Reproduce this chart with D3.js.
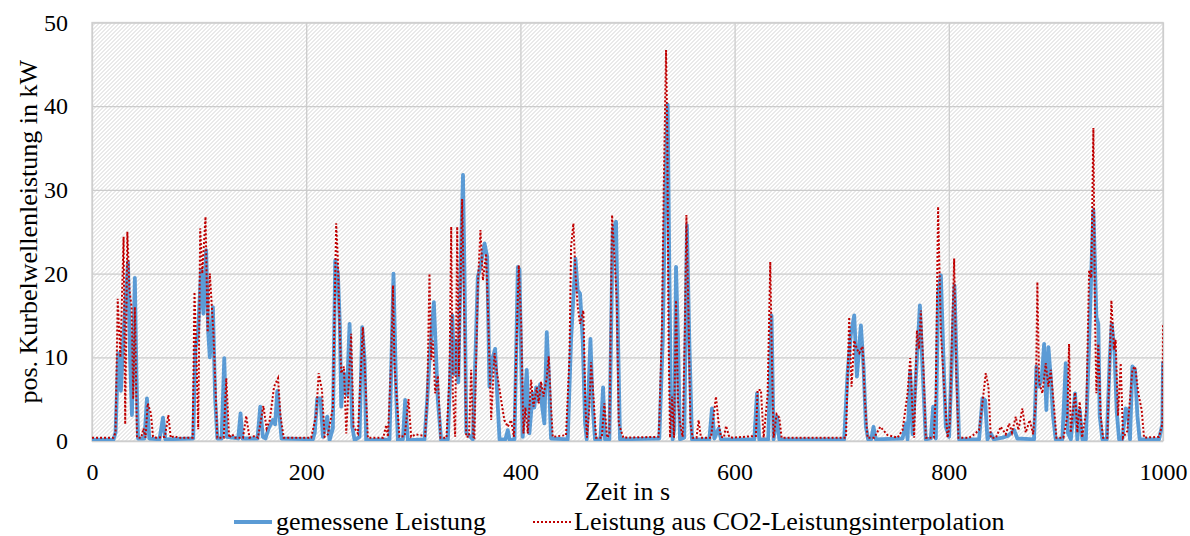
<!DOCTYPE html>
<html>
<head>
<meta charset="utf-8">
<script src="https://cdn.jsdelivr.net/npm/d3@7"></script>
<style>
  body { margin: 0; background: #fff; }
  svg { display: block; }
  svg text { font-family: "Liberation Serif", "Times New Roman", serif; fill: #000; }
</style>
</head>
<body>
<svg id="chart" width="1190" height="536"></svg>
<script>
// Zeit in s, Leistung in kW
const gemessen = [
  [0,0.15],[20,0.15],[22,1],[24.5,10.5],[27,6],[30,14],[33.6,21.4],[35.5,10],[37.3,3.1],[40,19.5],[41.5,8],[43,0.3],
  [49,0.3],[51.3,5.1],[53.5,0.3],[63,0.2],[66.3,2.8],[68.5,0.2],[94.5,0.3],[96.6,11.1],[99,13],[101.9,20.4],[104,15.2],
  [106.6,22.8],[108.5,13],[110,10],[112.9,16],[115,5],[117,0.3],[121,0.3],[123.5,9.9],[125.5,0.5],[136.5,0.3],[138.7,3.3],
  [140.5,0.3],[154.5,0.3],[157.1,4.1],[159.5,0.5],[162,0.3],[165,1.5],[168.9,2.5],[171,2],[173,6],[175,3],[177,0.3],
  [206.3,0.2],[208,1],[210.3,5.1],[213.4,5.1],[215.6,0.5],[219.6,2.9],[221.8,0.1],[224.9,1.5],[227.1,21.6],[229.6,20],
  [231.5,13.6],[232.7,4.1],[235.2,8.1],[238,5.5],[240.5,14],[243,1.7],[245.2,0.1],[249.8,0.5],[252.3,13.6],[254.5,9.7],
  [256,0.1],[277.8,0.2],[281.5,20],[284,5.7],[285.6,0.1],[290.3,0.2],[292.4,4.9],[294.9,0.1],[310.5,0.2],[313,4.9],
  [315.1,9.7],[319.2,16.6],[321.4,9.7],[322.9,4.9],[326,0.1],[332.3,0.2],[335,10],[336.5,15],[338,8],[340,12],[342,7],
  [344,20],[346.4,31.8],[347.8,20],[349.5,1],[355.6,0.2],[358,10],[360.2,19.6],[363,21],[366.5,23.6],[369,22],[371.1,6.5],
  [374.2,10],[376.4,11],[378.3,5.7],[380.5,0.2],[386,0.2],[388.2,1.3],[390,0.1],[394.5,0.2],[397.6,20.8],[399.1,20.5],
  [402.2,0.5],[405.9,8.5],[408.4,0.9],[411.5,5.7],[413,4],[414.7,6.4],[416.2,4.8],[418.4,6.8],[420.3,4.1],[422.4,2.1],
  [424.6,13],[426.5,8],[428.6,0.3],[444.2,0.2],[447.3,12],[451.4,21.8],[453.5,18],[455.7,17.6],[458.2,12],[460.4,2.1],
  [461.9,0.2],[465.4,12.2],[467.5,4],[469.7,0.2],[474.7,0.2],[477.2,6.4],[479,0.2],[483.1,0.2],[486.2,25.2],[489.3,26.2],
  [491.2,12],[493,0.2],[529.7,0.3],[532.9,12],[535.3,30],[537.5,40.2],[539.1,20],[540.6,4.1],[542.2,0.2],[543.7,1.5],
  [545.3,20.8],[547.2,12],[549,0.2],[553,0.4],[555.5,25.8],[557.7,12],[560.2,0.2],[576.4,0.2],[578.9,3.9],[581.1,0.3],
  [585.1,1.5],[587.3,0.2],[618.4,0.2],[620.9,5.7],[623,0.2],[631.4,0.2],[634.5,15],[636.4,0.2],[639.5,2.9],[641.7,0.2],
  [702.3,0.2],[705.5,8.1],[708.6,12.8],[711.7,15],[714.2,7.7],[717.9,13.8],[720.4,8.9],[722.6,1.7],[724.7,0.2],[727.5,0.2],
  [729.7,1.7],[731.9,0.2],[756.8,0.3],[759.9,2.1],[761.5,0.2],[764,8.3],[766.1,0.8],[770.2,9.7],[773,16.2],[775.4,9],
  [778.5,0.2],[783.2,0.3],[785.4,4.1],[787.9,0.3],[790,17.6],[792.6,19.8],[795,10],[797.2,1.7],[800.3,0.5],[803.4,11.6],
  [805.3,18.6],[807.1,10],[809.6,0.2],[828.3,0.2],[831.4,5.1],[833.9,4.9],[836.1,0.2],[839.2,0.9],[842,0.2],[850.1,0.4],
  [855,0.6],[861,1.3],[864,0.3],[879.6,0.2],[881.8,8.9],[884.3,6.5],[886.8,7.6],[889,11.6],[891.1,3.7],[893,11.2],
  [895.2,7.6],[897.3,3],[899.8,0.2],[906,0.2],[909.2,9.3],[911.1,1],[914,0.2],[917.9,5.7],[920,0.2],[922.2,3.7],[924.7,0.2],
  [928,0.2],[931,11.6],[933.4,21.6],[935,27.6],[936.5,21],[937.8,14.8],[939.6,14],[940.9,3],[943.4,0.2],[947.5,0.2],
  [950.2,9.6],[952.1,14],[954.6,10.9],[956.8,3.5],[959,0.2],[962,0.2],[965.2,3.9],[967,3.7],[969.2,0.2],[971.4,8.9],
  [973.9,8.5],[976.1,3],[978.2,0.2],[996.3,0.2],[999.4,2],[1000,9.5]
];

const interpoliert = [
  [0,0.4],[20,0.4],[22,1],[24,17],[26.5,10],[29.5,24.4],[31,2],[33,25],[35,18],[37,16],[38.5,5],[40,16],[42,0.4],
  [46,0.4],[48,1.5],[50,0.4],[52,4.5],[55,3.3],[57,0.5],[60,0.4],[68,0.5],[71.3,3.1],[73.5,0.4],[77,0.6],[80,0.4],
  [94,0.4],[95.7,17.8],[97.5,10],[99.2,1.4],[101,25.4],[103,20],[106,26.8],[108,13],[110,20],[113.3,13.2],[117,0.4],
  [123,0.4],[125.4,7.5],[128,0.4],[131,0.8],[133,0.4],[141,0.4],[144,3],[147,0.4],[152,0.6],[155,0.4],[160,4.2],
  [163,1.5],[166,2.5],[170,6.5],[173.7,7.5],[176,3],[179,0.4],[204.7,0.4],[209.4,3.2],[211.6,8.1],[214.7,6.1],
  [217.2,0.5],[220.3,0.8],[224.9,4],[228,26],[229.6,21.6],[231.2,13.6],[232.7,8.1],[235.2,8.9],[237.4,0.9],[242,12.8],
  [244.2,1.7],[248.3,0.9],[252.9,13.6],[255.1,7.7],[257.6,0.4],[272,0.4],[274.7,1.9],[276.3,0.5],[279.4,9.7],[281,18.6],
  [282.5,8.9],[287.1,0.5],[292,0.6],[295.5,5],[298,0.5],[302,0.8],[306,0.7],[311,0.6],[313,5],[315.1,20],[316.7,9.7],
  [318.3,12],[320.4,5.7],[323,7.8],[325.4,0.4],[331,0.4],[333.8,7.7],[335.4,25.6],[336.9,5.7],[339.1,0.5],[341,25.6],
  [342.5,7.7],[344.5,21.6],[345.6,28.9],[347.8,13.6],[349.4,0.5],[352,0.5],[354,8.5],[356,0.5],[357.1,0.4],[360.2,18.4],
  [362.7,25.2],[365,19.2],[368,22.4],[370.2,13.6],[372.7,2.5],[375.8,10.5],[378.3,8],[382,4.9],[385,2.5],[388.2,1.7],
  [391.3,2.5],[394,0.5],[396,10],[398.5,21],[400.7,14],[402.8,0.9],[404.7,4],[406.9,0.9],[410,7.3],[412.2,4.1],
  [415.3,6.4],[417.1,4.5],[419.3,7.1],[421.5,5.3],[424.6,7.6],[426.5,10.1],[428.6,4.1],[430.2,0.5],[442.6,0.7],
  [445.8,10],[447.3,23.2],[449.5,26],[451.4,20],[453.5,16],[455.7,14],[458.8,15.6],[460.7,4],[462.2,0.4],[464.4,4.1],
  [466,9.4],[468.2,5.3],[470.6,0.4],[476,0.4],[478.4,4.5],[480.9,0.4],[483.1,0.8],[485.6,27],[487.8,22],[490,16.8],
  [491.8,2.1],[494,1.2],[496.1,0.4],[529,0.5],[529.7,2.1],[532.2,14],[533.8,30],[536,46.7],[537.2,36],[538.4,12],
  [539.7,0.4],[541.6,5.3],[543.4,0.4],[545.3,16.8],[547.2,4.5],[549,2.1],[551.5,0.5],[553.7,14],[555,27],[556.8,16],
  [558.7,2.1],[560.8,0.4],[564.5,0.4],[566.4,2.5],[568.6,0.4],[578,0.4],[579.5,2.1],[582.6,5.3],[585.1,2.1],[587.3,0.5],
  [590,0.4],[592,1.8],[595,0.5],[598,0.4],[619.9,0.6],[621.5,6.1],[624.6,6.1],[627.1,0.4],[630.8,5.5],[633.3,21.4],
  [634.8,10],[636.4,0.4],[639.2,3.2],[641.7,2.8],[643.9,0.4],[704,0.4],[707,14.8],[709.2,6.5],[711.7,12],[714.2,11],
  [716.3,10.5],[719.5,11.3],[721.6,4.9],[724.1,0.4],[730.3,0.4],[736,1.7],[742.8,0.7],[752.1,0.4],[756.8,1.3],
  [761.5,5.7],[764,9.9],[766.1,3.5],[767.7,0.4],[770.2,13.2],[772.3,11],[773.9,15.6],[776.4,8.5],[778.5,0.4],[786,0.4],
  [787.9,5.7],[790,28],[792.6,13],[795.6,6.5],[798.8,0.4],[801,2],[802.8,11.6],[805,21.8],[807.1,7.7],[809,0.4],
  [819,0.4],[822.7,0.7],[828.3,1.3],[831.4,4.5],[834.5,8.1],[837,6.5],[839.2,0.4],[844,0.4],[848.5,1.7],[853.2,0.8],
  [856.3,2.1],[859,1],[862.5,2.9],[865,1.3],[868.7,3.9],[871.8,1],[875.6,2.5],[878.7,0.8],[881.2,4.5],[882.7,19],
  [884.3,7],[887.4,5.7],[890.5,9.3],[893,6.5],[895.2,8.5],[898.3,4],[900.5,0.4],[907,0.4],[910.7,3],[912.3,11.6],
  [913.8,1],[917.9,5.8],[920,1],[922.2,4.7],[924.5,0.4],[928.4,3.7],[931,20.4],[933,19.5],[935,37.4],[936.5,15],
  [937.8,5.7],[939.6,11.6],[941.8,3],[944,0.4],[948,0.4],[950.2,9],[951.8,16.8],[954.3,10.9],[955.8,12.1],[958,3],
  [960.5,9.3],[962.7,0.4],[966.7,1.2],[971.4,8.5],[973.9,8.9],[977,5.7],[980.1,3.7],[982.3,0.4],[996.3,0.5],[999.4,2],
  [1000,14]
];

const xTicks = [0, 200, 400, 600, 800, 1000];
const yTicks = [0, 10, 20, 30, 40, 50];
const seriesNames = ['gemessene Leistung', 'Leistung aus CO2-Leistungsinterpolation'];

const svg = d3.select('#chart');
const margin = { top: 22.5, right: 27, bottom: 95, left: 92 };
const width = 1190 - margin.left - margin.right;
const height = 536 - margin.top - margin.bottom;
const serif = 'Liberation Serif, Times New Roman, serif';

const defs = svg.append('defs');
const pat = defs.append('pattern')
    .attr('id', 'hatch')
    .attr('patternUnits', 'userSpaceOnUse')
    .attr('width', 4).attr('height', 4);
pat.append('rect').attr('width', 4).attr('height', 4).attr('fill', '#fff');
pat.append('path')
    .attr('d', 'M-1,1 L1,-1 M0,4 L4,0 M3,5 L5,3')
    .attr('stroke', '#d2d2d2').attr('stroke-width', 1);

defs.append('clipPath').attr('id', 'clip')
    .append('rect').attr('x', 0).attr('y', -10).attr('width', width).attr('height', height + 10);

const g = svg.append('g').attr('transform', 'translate(' + margin.left + ',' + margin.top + ')');

const xScale = d3.scaleLinear().domain([0, 1000]).range([0, width]);
const yScale = d3.scaleLinear().domain([0, 50]).range([height, 0]);

g.append('rect').attr('width', width).attr('height', height).attr('fill', 'url(#hatch)');

// Gitter
g.append('g')
    .attr('transform', 'translate(0,' + height + ')')
    .call(d3.axisBottom(xScale).tickValues(xTicks).tickSize(-height).tickFormat(''))
    .call(a => {
        a.select('.domain').remove();
        a.selectAll('.tick line').attr('stroke', '#cccccc').attr('stroke-width', 1.3);
    });
g.append('g')
    .call(d3.axisLeft(yScale).tickValues(yTicks).tickSize(-width).tickFormat(''))
    .call(a => {
        a.select('.domain').remove();
        a.selectAll('.tick line').attr('stroke', '#cccccc').attr('stroke-width', 1.3);
    });
g.append('rect').attr('width', width).attr('height', height)
    .attr('fill', 'none').attr('stroke', '#d0d0d0').attr('stroke-width', 1.3);

// Achsenbeschriftung
const xAxisG = g.append('g')
    .attr('transform', 'translate(0,' + height + ')')
    .call(d3.axisBottom(xScale).tickValues(xTicks).tickSize(0).tickPadding(22).tickFormat(d3.format('d')));
xAxisG.attr('font-family', serif).attr('font-size', 24);
xAxisG.select('.domain').remove();

const yAxisG = g.append('g')
    .call(d3.axisLeft(yScale).tickValues(yTicks).tickSize(0).tickPadding(24).tickFormat(d3.format('d')));
yAxisG.attr('font-family', serif).attr('font-size', 24);
yAxisG.select('.domain').remove();

const line = d3.line().x(d => xScale(d[0])).y(d => yScale(d[1]));
const plot = g.append('g').attr('clip-path', 'url(#clip)');

plot.append('path').datum(gemessen)
    .attr('d', line)
    .attr('fill', 'none')
    .attr('stroke', '#5b9bd5')
    .attr('stroke-width', 3.8)
    .attr('stroke-linejoin', 'round');

plot.append('path').datum(interpoliert)
    .attr('d', line)
    .attr('fill', 'none')
    .attr('stroke', '#c00000')
    .attr('stroke-width', 2)
    .attr('stroke-dasharray', '2,2');

svg.append('text')
    .attr('x', margin.left + width / 2).attr('y', 500)
    .attr('text-anchor', 'middle')
    .attr('font-size', 26)
    .text('Zeit in s');

svg.append('text')
    .attr('transform', 'translate(37,' + (margin.top + height / 2) + ') rotate(-90)')
    .attr('text-anchor', 'middle')
    .attr('font-size', 26)
    .text('pos. Kurbelwellenleistung in kW');

// Legende
const legend = svg.append('g').attr('transform', 'translate(0,522)').attr('font-size', 26);
legend.append('line').attr('x1', 234).attr('x2', 272).attr('y1', 0).attr('y2', 0)
    .attr('stroke', '#5b9bd5').attr('stroke-width', 3.8);
legend.append('text').attr('x', 276).attr('y', 8).text(seriesNames[0]);
legend.append('line').attr('x1', 533).attr('x2', 571).attr('y1', 0).attr('y2', 0)
    .attr('stroke', '#c00000').attr('stroke-width', 2).attr('stroke-dasharray', '2,2');
legend.append('text').attr('x', 574).attr('y', 8).text(seriesNames[1]);

svg.selectAll('text').style('font-family', serif);
xAxisG.selectAll('text').style('font-size', '24px');
yAxisG.selectAll('text').style('font-size', '24px');
</script>
</body>
</html>
